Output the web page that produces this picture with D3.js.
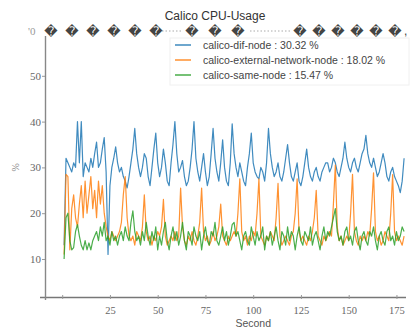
<!DOCTYPE html>
<html>
<head>
<meta charset="utf-8">
<script src="https://cdn.jsdelivr.net/npm/d3@7"></script>
<style>
  body { margin: 0; background: #fff; }
  svg { display: block; }
</style>
</head>
<body>
<div id="chart"></div>
<script>
// Chart values
const seriesNames = ["calico-dif-node", "calico-external-network-node", "calico-same-node"];
const seriesMeans = ["30.32", "18.02", "15.47"];
const seriesColors = ["#1f77b4", "#ff7f0e", "#2ca02c"];

const xTicks = [0, 25, 50, 75, 100, 125, 150, 175];
const yTicks = [10, 20, 30, 40, 50];

const difNode = [
  13, 32, 31, 30, 29, 31, 30, 40, 31, 40, 28, 31, 30, 29, 32, 30, 33, 35.5, 30, 31,
  34, 36.5, 29, 11, 26, 30, 32, 34.5, 31, 29, 30, 28, 27, 25.5, 28, 31, 34, 38.5, 33, 30,
  28, 30, 33, 32, 28, 26, 30, 34, 37.5, 31, 28, 30, 34, 31, 27, 26, 31, 35, 40, 33,
  29, 30, 31.5, 28, 26, 27, 30, 34, 40, 32, 29, 27, 30, 33, 29, 26, 28, 33, 38.5, 32,
  29, 27, 31, 36, 30, 27, 26, 31, 39.5, 33, 30, 28, 31, 29, 27, 26, 30, 33, 37.5, 31,
  29, 28, 27.5, 30, 29, 27, 31, 38.5, 33, 30, 28, 29, 31, 28, 27, 29, 32, 35, 31, 28,
  27, 29, 31, 27, 26, 28, 31, 34, 30, 28, 27, 29, 30, 28, 27, 29, 30, 31, 31, 29,
  30, 32, 31, 29, 28, 30, 32, 35.5, 32, 30, 29, 31, 32, 30, 29, 31, 33, 34, 37, 33,
  31, 30, 32, 30, 28, 29, 31, 33, 31, 28, 27, 29, 30, 28, 27, 26, 24.5, 27, 32
];

const externalNode = [
  11, 28.5, 28, 12, 21, 24, 19, 17, 22, 26, 19, 27, 20, 24, 28, 21, 25, 19, 27, 22,
  26, 20, 17, 15, 14, 16, 15, 14, 15, 16, 18, 24, 28, 19, 15, 14, 15, 13, 16, 15,
  14, 17, 24, 16, 14, 15, 13, 15, 14, 16, 15, 17, 23, 15, 13, 14, 15, 14, 16, 14,
  15, 25.5, 17, 14, 13, 15, 14, 16, 14, 13, 15, 18, 25.5, 16, 14, 15, 13, 14, 16, 14,
  15, 17, 22, 15, 14, 13, 15, 14, 15, 16, 15, 20, 27.5, 16, 14, 15, 13, 15, 14, 16,
  15, 20, 27.5, 15, 14, 13, 15, 14, 16, 15, 14, 19, 26.5, 15, 13, 14, 15, 14, 13, 15,
  16, 20, 27.5, 16, 14, 15, 14, 13, 15, 14, 16, 19, 25, 15, 14, 13, 15, 14, 15, 16,
  15, 22, 30.5, 17, 14, 15, 13, 14, 15, 14, 20, 28.5, 16, 14, 13, 15, 14, 15, 14, 16,
  15, 21, 28.8, 16, 14, 15, 13, 14, 16, 15, 14, 20, 28.4, 16, 14, 15, 14, 13, 15
];

const sameNode = [
  10, 19, 20, 14, 12, 12.5, 16, 17.5, 15, 13, 12, 14, 12, 13.5, 12, 14, 15, 16, 14, 17,
  15, 18, 14, 15, 13, 16, 14, 15, 13, 15, 16, 14, 17, 15, 14, 18, 20.5, 16, 14, 15,
  13, 16, 14, 18, 15, 13, 16, 14, 17, 12, 15, 13, 16, 18, 14, 12, 15, 17, 14, 16,
  13, 15, 18, 14, 12, 16, 15, 13, 17, 15, 14, 16, 12, 15, 17, 14, 13, 16, 15, 18,
  14, 13, 15, 17, 14, 16, 13, 15, 17.5, 18, 15, 16, 14, 12, 15, 16, 14, 13, 17, 15,
  13, 16, 14, 15, 17, 12, 15, 14, 16, 13, 15, 17, 14, 12, 16, 15, 13, 17, 14, 16,
  15, 12, 15, 17, 14, 13, 16, 15, 14, 17, 13, 15, 16, 14, 12, 15, 17, 14, 16, 15,
  17, 19, 21, 16, 14, 15, 13, 16, 17, 14, 15, 13, 16, 17, 14, 12, 15, 16, 14, 13,
  16, 15, 17, 14, 12, 15, 16, 14, 13, 16, 17, 14, 15, 13, 16, 14, 15, 17, 16
];

const allSeries = [difNode, externalNode, sameNode];

const width = 414, height = 335;

const svg = d3.select("#chart").append("svg")
  .attr("width", width)
  .attr("height", height);

const x = d3.scaleLinear().domain([-9, 180]).range([45, 406]);
const y = d3.scaleLinear().domain([1.7, 60]).range([297, 30]);

const serif = "'Liberation Serif', 'DejaVu Serif', serif";
const sans = "'Liberation Sans', Arial, sans-serif";

// Axes
const xAxis = svg.append("g")
  .attr("transform", `translate(0,${y(1.7)})`)
  .call(d3.axisBottom(x).tickValues(xTicks).tickSize(3).tickSizeOuter(0)
    .tickFormat(d => d === 0 ? "" : d));
xAxis.select(".domain").attr("stroke", "#777").attr("stroke-width", 1.4)
  .attr("d", `M40,0.5H406`);
xAxis.selectAll(".tick line").attr("stroke", "#999").attr("y1", -2).attr("y2", 2);
xAxis.selectAll("text").attr("font-family", serif).attr("font-size", 10.5)
  .attr("fill", "#666").attr("dy", "1.05em");

const yAxis = svg.append("g")
  .attr("transform", `translate(${x(-9)},0)`)
  .call(d3.axisLeft(y).tickValues(yTicks).tickSize(3).tickSizeOuter(0));
yAxis.select(".domain").attr("stroke", "#888").attr("stroke-width", 1.4)
  .attr("d", `M0.5,36V300`);
yAxis.selectAll(".tick line").attr("stroke", "#999");
yAxis.selectAll("text").attr("font-family", serif).attr("font-size", 11)
  .attr("fill", "#666").attr("x", -4);

// Series lines
const line = d3.line()
  .x((d, i) => x(i + 1))
  .y(d => y(d));

svg.append("g").selectAll("path")
  .data(allSeries)
  .join("path")
  .attr("d", line)
  .attr("fill", "none")
  .attr("stroke", (d, i) => seriesColors[i])
  .attr("stroke-width", 1.2)
  .attr("stroke-opacity", 0.85)
  .attr("stroke-linejoin", "round");

// Axis labels
svg.append("text")
  .attr("x", x(100)).attr("y", 327)
  .attr("text-anchor", "middle")
  .attr("font-family", sans).attr("font-size", 10.5).attr("fill", "#555")
  .text("Second");

svg.append("text")
  .attr("transform", `translate(19,${y(30)}) rotate(-90)`)
  .attr("text-anchor", "middle")
  .attr("font-family", serif).attr("font-size", 10).attr("fill", "#888")
  .text("%");

// Legend
const legend = svg.append("g");
legend.append("rect")
  .attr("x", 170).attr("y", 38).attr("width", 239).attr("height", 47)
  .attr("fill", "#fff").attr("fill-opacity", 0.85)
  .attr("stroke", "#f0f0f0");

const rows = legend.selectAll("g.row")
  .data(seriesNames)
  .join("g")
  .attr("class", "row")
  .attr("transform", (d, i) => `translate(0,${45 + i * 15})`);
rows.append("line")
  .attr("x1", 175).attr("x2", 191).attr("y1", 0).attr("y2", 0)
  .attr("stroke", (d, i) => seriesColors[i]).attr("stroke-width", 1.3);
rows.append("text")
  .attr("x", 203).attr("y", 3.5)
  .attr("font-family", sans).attr("font-size", 10.5).attr("fill", "#444")
  .text((d, i) => `${d} : ${seriesMeans[i]}  %`);

// Title
svg.append("text")
  .attr("x", 215).attr("y", 20)
  .attr("text-anchor", "middle")
  .attr("font-family", sans).attr("font-size", 12).attr("fill", "#333")
  .text("Calico CPU-Usage");

// Garbled top row (broken glyphs in the source)
const garble = "\uFFFD";
svg.append("text")
  .attr("x", 28).attr("y", 35)
  .attr("font-family", serif).attr("font-size", 11).attr("fill", "#999")
  .text("'0");

const dotted = [[162, 182], [250, 292]];
svg.append("g").selectAll("line")
  .data(dotted)
  .join("line")
  .attr("x1", d => d[0]).attr("x2", d => d[1])
  .attr("y1", 31).attr("y2", 31)
  .attr("stroke", "#aaa").attr("stroke-dasharray", "1.5,2");

const glyphGroups = [
  { x: 51, n: 6, pitch: 21 },
  { x: 192, n: 3, pitch: 23 },
  { x: 300, n: 6, pitch: 19 }
];
const glyphs = glyphGroups.flatMap(g => d3.range(g.n).map(i => g.x + i * g.pitch));
svg.append("g").selectAll("text")
  .data(glyphs)
  .join("text")
  .attr("x", d => d).attr("y", 35.5)
  .attr("text-anchor", "middle")
  .attr("font-family", "'DejaVu Sans', sans-serif").attr("font-size", 13)
  .attr("fill", "#444")
  .text(garble);
svg.append("text")
  .attr("x", 404).attr("y", 35)
  .attr("font-family", sans).attr("font-size", 12).attr("fill", "#444")
  .text(",");
</script>
</body>
</html>
